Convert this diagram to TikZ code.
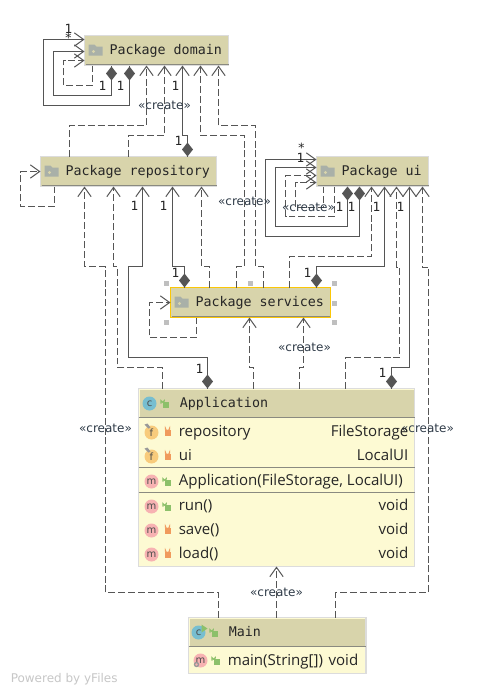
\documentclass[tikz,border=0pt]{standalone}
\usepackage{fontspec}
\setmainfont{DejaVu Sans}
\newfontfamily\hdfont{DejaVu Sans Mono}
\newfontfamily\bodyfont{Open Sans}
\usetikzlibrary{arrows.meta,calc}
\definecolor{pkgfill}{HTML}{D8D4AB}
\definecolor{bodyfill}{HTML}{FDFAD3}
\definecolor{edgegray}{HTML}{DCDCDC}
\definecolor{darkline}{HTML}{8A8A80}
\definecolor{lnk}{HTML}{555555}
\definecolor{inktext}{HTML}{2F3B48}
\definecolor{lockgreen}{HTML}{8CC06A}
\definecolor{lockorange}{HTML}{F09A5C}
\definecolor{circblue}{HTML}{77BED0}
\definecolor{circorange}{HTML}{F8CB7C}
\definecolor{circpink}{HTML}{F7B2B2}
\definecolor{foldergray}{HTML}{A9B0A8}
\tikzset{
 x=0.75pt,y=-0.75pt,
 pkgbox/.style={draw=edgegray,fill=pkgfill,line width=1.1pt,inner xsep=0pt,inner ysep=0pt,outer sep=0pt,
   font=\hdfont\fontsize{10}{12}\selectfont,text=black!85,text height=8pt,text depth=2pt},
 classbox/.style={draw=edgegray,fill=bodyfill,line width=1.1pt,inner sep=0pt,outer sep=0pt},
 deplink/.style={draw=lnk,line width=0.75pt,dash pattern=on 5.2pt off 2.2pt,-{Straight Barb[length=7pt,width=10pt,line width=0.75pt,color=lnk]}},
 ownlink/.style={draw=lnk,line width=0.85pt,-{Straight Barb[length=7pt,width=10pt,line width=0.75pt,color=lnk]}},
 createlab/.style={inner sep=0pt,font=\fontsize{9}{10}\selectfont,text=inktext},
 multlab/.style={inner sep=0pt,font=\hdfont\fontsize{9.5}{11}\selectfont,text=black!85},
 rowleft/.style={anchor=mid west,inner sep=0pt,font=\bodyfont\fontsize{11.3}{13}\selectfont,text=black!85,text height=8pt,text depth=2pt},
 rowright/.style={anchor=mid east,inner sep=0pt,font=\bodyfont\fontsize{11.3}{13}\selectfont,text=black!85,text height=8pt,text depth=2pt},
 headtext/.style={anchor=mid west,inner sep=0pt,font=\hdfont\fontsize{10}{12}\selectfont,text=black!85,text height=8pt,text depth=2pt},
 handle/.style={fill=black!25,draw=none},
 icontext/.style={inner sep=0pt,font=\fontsize{7.5}{8}\selectfont,text=black!70},
}
\newcommand{\folderat}[2]{%
 \fill[foldergray] (#1,#2) -- (#1,#2-11) -- (#1+6,#2-11) -- (#1+8,#2-9) -- (#1+14,#2-9) -- (#1+14,#2) -- cycle;
 \fill[pkgfill] (#1+5,#2-4) circle (1.7);}
\newcommand{\closedlock}[2]{%
 \fill[lockorange] (#1-3,#2-3) rectangle (#1+3,#2+3);
 \draw[lockorange,line width=0.8pt] (#1-2,#2-3) -- (#1-2,#2-4) arc (180:0:2) -- (#1+2,#2-3);}
\newcommand{\openlock}[2]{%
 \fill[lockgreen] (#1-1.5,#2-2) rectangle (#1+4.5,#2+4);
 \draw[lockgreen,line width=0.8pt] (#1-3.5,#2) -- (#1-3.5,#2-3) arc (180:0:1.7) -- (#1-0.1,#2-2);}
\newcommand{\pinat}[2]{\fill[black!40] (#1-7,#2-8) -- (#1-4,#2-9) -- (#1-1,#2-5) -- (#1-3,#2-4) -- cycle;}
\newcommand{\ownerdiamond}[2]{\fill[lnk] (#1,#2-7) -- (#1+5.5,#2) -- (#1,#2+7) -- (#1-5.5,#2) -- cycle;}
\begin{document}
\begin{tikzpicture}
\useasboundingbox (0,0) rectangle (476,694);
\fill[white] (0,0) rectangle (476,694);
\begin{scope}[shift={(0.5,0.5)}]
% packages
\node[pkgbox,minimum width=108pt,minimum height=22.5pt,anchor=north west] (domain) at (84,35) {\makebox[108pt][l]{\hspace*{18.75pt}Package domain}};
\node[pkgbox,minimum width=132pt,minimum height=22.5pt,anchor=north west] (repo) at (40,156) {\makebox[132pt][l]{\hspace*{18.75pt}Package repository}};
\node[pkgbox,minimum width=84pt,minimum height=22.5pt,anchor=north west] (ui) at (316,156) {\makebox[84pt][l]{\hspace*{18.75pt}Package ui}};
\node[pkgbox,draw=yellow!60!orange,minimum width=120pt,minimum height=22.5pt,anchor=north west] (services) at (170,287) {\makebox[120pt][l]{\hspace*{18.75pt}Package services}};
\draw[darkline,line width=1pt] (85,64) -- (228,64) (41,185) -- (216,185) (317,185) -- (428,185) (171,316) -- (329,316);
\folderat{88}{55}\folderat{44}{176}\folderat{320}{176}\folderat{174}{307}
% classes
\node[classbox,minimum width=207pt,minimum height=133.5pt,anchor=north west] (app) at (138,388) {};
\node[classbox,minimum width=133pt,minimum height=42pt,anchor=north west] (main) at (188,617) {};
\fill[pkgfill] (139,389) rectangle (413,417);
\fill[pkgfill] (189,618) rectangle (364,646);
\draw[darkline,line width=1pt] (app.west |- 0,417) -- (app.east |- 0,417);
\draw[darkline,line width=0.8pt] (app.west |- 0,467) -- (app.east |- 0,467);
\draw[darkline,line width=0.8pt] (app.west |- 0,492) -- (app.east |- 0,492);
\draw[darkline,line width=1pt] (main.west |- 0,646) -- (main.east |- 0,646);
% domain self links
\draw[ownlink] (domain.south -| 129,0) -- (129,105) -- (43,105) -- (43,39) -- (domain.west |- 0,39);
\draw[ownlink] (domain.south -| 111,0) -- (111,95) -- (53,95) -- (53,51) -- (domain.west |- 0,51);
\draw[deplink] (domain.south -| 92,0) -- (92,85) -- (63,85) -- (63,60) -- (domain.west |- 0,60);
\ownerdiamond{129}{73}\ownerdiamond{111}{73}
% repo to domain
\draw[deplink] (repo.north -| 69,0) -- (69,125) -- (146,125) -- (domain.south -| 146,0);
\draw[deplink] (repo.north -| 128,0) -- (128,135) -- (164,135) -- (domain.south -| 164,0);
\draw[ownlink] (repo.north -| 187,0) -- (187,135) -- (182,135) -- (domain.south -| 182,0);
\ownerdiamond{187}{149}
% services to domain
\draw[deplink] (services.north -| 236,0) -- (236,266) -- (244,266) -- (244,135) -- (200,135) -- (domain.south -| 200,0);
\draw[deplink] (services.north -| 263,0) -- (263,266) -- (255,266) -- (255,125) -- (218,125) -- (domain.south -| 218,0);
% repo self
\draw[deplink] (repo.south -| 54,0) -- (54,206) -- (20,206) -- (20,171) -- (repo.west |- 0,171);
% to repo
\draw[deplink] (main.north -| 218,0) -- (218,592) -- (105,592) -- (105,266) -- (84,266) -- (repo.south -| 84,0);
\draw[deplink] (app.north -| 162,0) -- (162,367) -- (117,367) -- (117,266) -- (113,266) -- (repo.south -| 113,0);
\draw[ownlink] (app.north -| 207,0) -- (207,357) -- (128,357) -- (128,266) -- (142,266) -- (repo.south -| 142,0);
\ownerdiamond{207}{381}
\draw[ownlink] (services.north -| 184,0) -- (184,266) -- (172,266) -- (repo.south -| 172,0);
\ownerdiamond{184}{280}
\draw[deplink] (services.north -| 209,0) -- (209,266) -- (201,266) -- (repo.south -| 201,0);
% ui self
\draw[ownlink] (ui.south -| 359,0) -- (359,236) -- (265,236) -- (265,159) -- (ui.west |- 0,159);
\draw[ownlink] (ui.south -| 347,0) -- (347,226) -- (275,226) -- (275,167) -- (ui.west |- 0,167);
\draw[deplink] (ui.south -| 334,0) -- (334,216) -- (285,216) -- (285,175) -- (ui.west |- 0,175);
\draw[deplink] (ui.south -| 323,0) -- (323,207) -- (295,207) -- (295,182) -- (ui.west |- 0,182);
\ownerdiamond{359}{193}\ownerdiamond{347}{193}
% to ui
\draw[deplink] (services.north -| 289,0) -- (289,256) -- (371,256) -- (ui.south -| 371,0);
\draw[ownlink] (services.north -| 316,0) -- (316,266) -- (384,266) -- (ui.south -| 384,0);
\ownerdiamond{316}{280}
\draw[deplink] (app.north -| 345,0) -- (345,357) -- (399,357) -- (399,267) -- (396,267) -- (ui.south -| 396,0);
\draw[ownlink] (app.north -| 391,0) -- (391,367) -- (409,367) -- (ui.south -| 409,0);
\ownerdiamond{391}{381}
\draw[deplink] (main.north -| 335,0) -- (335,592) -- (428,592) -- (428,267) -- (422,267) -- (ui.south -| 422,0);
% services self and to services
\draw[deplink] (services.south -| 196,0) -- (196,337) -- (149,337) -- (149,302) -- (services.west |- 0,302);
\draw[deplink] (app.north -| 253,0) -- (253,367) -- (249,367) -- (services.south -| 249,0);
\draw[deplink] (app.north -| 299,0) -- (299,367) -- (303,367) -- (services.south -| 303,0);
% main to app
\draw[deplink] (main.north -| 276,0) -- (app.south -| 276,0);
% selection handles
\foreach \hx/\hy in {166/283,250/283,334/283,334/303,166/322,334/322}
  \fill[handle] (\hx-2.5,\hy-2.5) rectangle (\hx+2.5,\hy+2.5);
% labels
\node[createlab] (c1) at (164,105) {«create»};
\node[createlab] (c2) at (244,201) {«create»};
\node[createlab] (c3) at (308,207) {«create»};
\node[createlab] (c4) at (304,347) {«create»};
\node[createlab] (c5) at (105,428) {«create»};
\node[createlab] (c6) at (427,428) {«create»};
\node[createlab] (c7) at (276,592) {«create»};
\node[multlab] (m1) at (68,28) {1};
\node[multlab] (m2) at (68,37) {*};
\node[multlab] (m3) at (102,85) {1};
\node[multlab] (m4) at (120,85) {1};
\node[multlab] (m5) at (175,85) {1};
\node[multlab] (m6) at (178,140) {1};
\node[multlab] (m7) at (134,205) {1};
\node[multlab] (m8) at (163,205) {1};
\node[multlab] (m9) at (175,272) {1};
\node[multlab] (m10) at (199,368) {1};
\node[multlab] (m11) at (301,147) {*};
\node[multlab] (m12) at (300,157) {1};
\node[multlab] (m13) at (339,206) {1};
\node[multlab] (m14) at (351,206) {1};
\node[multlab] (m15) at (376,206) {1};
\node[multlab] (m16) at (400,206) {1};
\node[multlab] (m17) at (307,272) {1};
\node[multlab] (m18) at (382,372) {1};
% application text
\node[headtext] (apptitle) at (179,403) {Application};
\node[rowleft] (r1) at (178,432) {repository};
\node[rowright] (r1t) at (408,432) {FileStorage};
\node[rowleft] (r2) at (178,456) {ui};
\node[rowright] (r2t) at (408,456) {LocalUI};
\node[rowleft] (r3) at (178,481) {Application(FileStorage, LocalUI)};
\node[rowleft] (r4) at (178,506) {run()};
\node[rowright] (r4t) at (408,506) {void};
\node[rowleft] (r5) at (178,530) {save()};
\node[rowright] (r5t) at (408,530) {void};
\node[rowleft] (r6) at (178,554) {load()};
\node[rowright] (r6t) at (408,554) {void};
% main text
\node[headtext] (maintitle) at (228,632) {Main};
\node[rowleft] (mr) at (227,661) {main(String[])};
\node[rowright] (mrt) at (358,661) {void};
% icons
\fill[circblue] (149,403) circle (7);
\node[icontext] (ic1) at (149,403) {c};
\openlock{164}{403}
\fill[circorange] (151,432) circle (7); \pinat{151}{432}
\node[icontext] (if1) at (151,432) {f};
\closedlock{167}{432}
\fill[circorange] (151,456) circle (7); \pinat{151}{456}
\node[icontext] (if2) at (151,456) {f};
\closedlock{167}{456}
\fill[circpink] (151,481) circle (7);
\node[icontext] (im1) at (151,481) {m};
\openlock{166}{481}
\fill[circpink] (151,506) circle (7);
\node[icontext] (im2) at (151,506) {m};
\openlock{166}{506}
\fill[circpink] (151,530) circle (7);
\node[icontext] (im3) at (151,530) {m};
\closedlock{167}{530}
\fill[circpink] (151,554) circle (7);
\node[icontext] (im4) at (151,554) {m};
\closedlock{167}{554}
\fill[circblue] (198,632) circle (7);
\node[icontext] (ic2) at (198,632) {c};
\fill[lockgreen] (201,624) -- (207,628) -- (201,632) -- cycle;
\openlock{213}{632}
\fill[circpink] (200,660) circle (7);
\node[icontext] (im5) at (200,660) {m};
\draw[black!40,line width=1pt] (196,664) circle (2);
\openlock{215}{660}
% watermark
\node[inner sep=0pt,anchor=mid west,font=\fontsize{9}{11}\selectfont,text=black!22] (wm) at (10,678) {Powered by yFiles};
\end{scope}
\end{tikzpicture}
\end{document}
